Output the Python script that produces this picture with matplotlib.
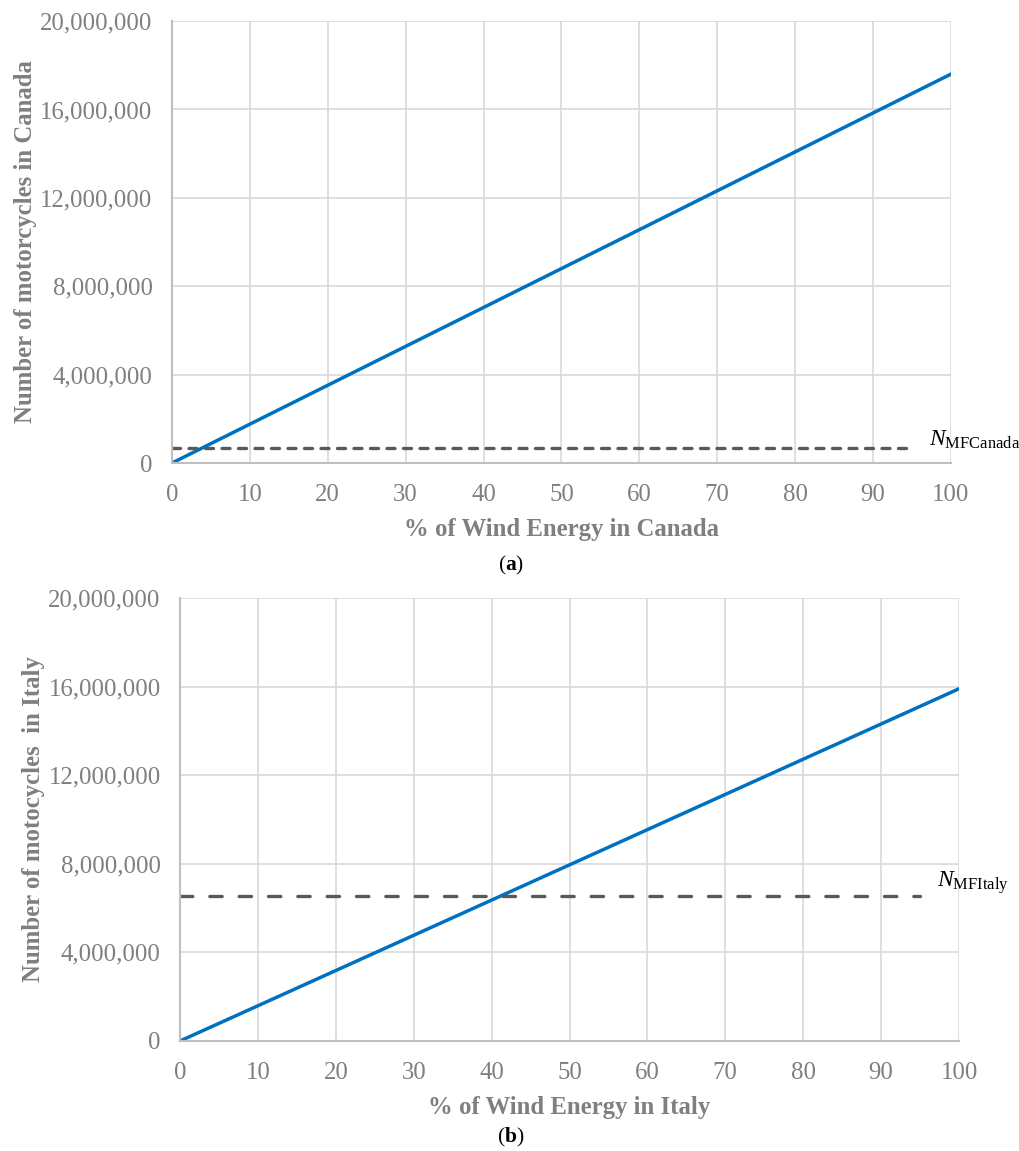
import matplotlib
matplotlib.use("Agg")
import matplotlib.pyplot as plt
import numpy as np

# Wind share (%) and motorcycle counts that the wind energy could power
wind_pct = [0, 100]
canada_motorcycles = [0, 17600000]
italy_motorcycles = [0, 15900000]

# Motorcycle fleet sizes (horizontal reference lines), drawn from 0 to 95 %
fleet_x = [0, 95]
canada_fleet = 680000
italy_fleet = 6550000

y_ticks = [0, 4000000, 8000000, 12000000, 16000000, 20000000]
x_ticks = [0, 10, 20, 30, 40, 50, 60, 70, 80, 90, 100]

plt.rcParams['font.family'] = ['Liberation Serif', 'DejaVu Serif']
plt.rcParams['mathtext.fontset'] = 'custom'
plt.rcParams['mathtext.rm'] = 'Liberation Serif'
plt.rcParams['mathtext.it'] = 'Liberation Serif:italic'
plt.rcParams['mathtext.bf'] = 'Liberation Serif:bold'

GRAY_TXT = '#7f7f7f'
GRID = '#d9d9d9'
SPINE = '#bfbfbf'
BLUE = '#0070c0'
DASH = '#595959'
FS = 17.8
LW = 2.4

fig = plt.figure(figsize=(10.2, 11.51), dpi=100)
ax_a = fig.add_axes([0.1686, 0.5977, 0.7637, 0.3840])
ax_b = fig.add_axes([0.1765, 0.0956, 0.7637, 0.3849])


def style(ax, xlabel, ylabel):
    ax.set_xlim(0, 100)
    ax.set_ylim(0, 20000000)
    ax.set_xticks(x_ticks)
    ax.set_yticks(y_ticks)
    ax.set_yticklabels([f"{v:,}" for v in y_ticks])
    ax.grid(True, color=GRID, linewidth=1.2)
    ax.set_axisbelow(True)
    for s in ('top', 'right'):
        ax.spines[s].set_visible(False)
    for s in ('left', 'bottom'):
        ax.spines[s].set_color(SPINE)
        ax.spines[s].set_linewidth(1.5)
    ax.tick_params(length=0, labelsize=FS, labelcolor=GRAY_TXT)
    ax.tick_params(axis='x', pad=15)
    ax.tick_params(axis='y', pad=14)
    ax.set_xlabel(xlabel, fontsize=FS, fontweight='bold', color=GRAY_TXT, labelpad=9)
    ax.set_ylabel(ylabel, fontsize=FS, fontweight='bold', color=GRAY_TXT, labelpad=2)


style(ax_a, '% of Wind Energy in Canada', 'Number of motorcycles in Canada')
style(ax_b, '% of Wind Energy in Italy', 'Number of motocycles  in Italy')

ax_a.plot(wind_pct, canada_motorcycles, color=BLUE, linewidth=2.5, solid_capstyle='round')
ax_a.plot(fleet_x, [canada_fleet, canada_fleet], color=DASH, linewidth=LW,
          linestyle=(0, (2.4, 2.55)), dash_capstyle='round')
ax_a.text(97.2, canada_fleet - 150000, r'$\mathit{N}_{\mathrm{MFCanada}}$', fontsize=17,
          color='black', va='bottom', ha='left', clip_on=False)

ax_b.plot(wind_pct, italy_motorcycles, color=BLUE, linewidth=2.5, solid_capstyle='round')
ax_b.plot(fleet_x, [italy_fleet, italy_fleet], color=DASH, linewidth=LW,
          linestyle=(0, (3.7, 5.1)), dash_capstyle='round')
ax_b.text(97.2, italy_fleet, r'$\mathit{N}_{\mathrm{MFItaly}}$', fontsize=17,
          color='black', va='bottom', ha='left', clip_on=False)

fig.text(511 / 1020, 1 - 565 / 1151, r'($\mathbf{a}$)', fontsize=15.5, ha='center', va='center')
fig.text(511 / 1020, 1 - 1137 / 1151, r'($\mathbf{b}$)', fontsize=15.5, ha='center', va='center')

fig.savefig('out.png', dpi=100)
